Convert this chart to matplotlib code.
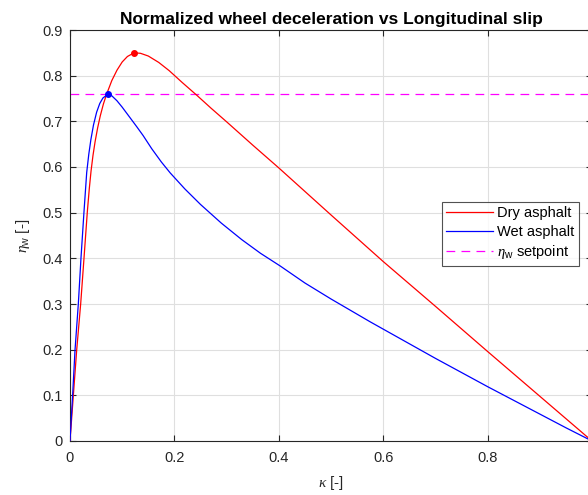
import matplotlib
matplotlib.use("Agg")
import matplotlib.pyplot as plt

plt.rcParams['font.family'] = ['Liberation Sans', 'DejaVu Sans']
plt.rcParams['mathtext.fontset'] = 'custom'
plt.rcParams['mathtext.it'] = 'Liberation Serif:italic'
plt.rcParams['mathtext.rm'] = 'Liberation Sans'

# Longitudinal slip and normalized wheel deceleration, dry asphalt
kappa_dry = [0.0, 0.005, 0.0128, 0.0205, 0.0268, 0.0332, 0.037, 0.0403, 0.044,
             0.048, 0.053, 0.058, 0.064, 0.070, 0.080, 0.090, 0.100, 0.110,
             0.1227, 0.135, 0.150, 0.170, 0.190, 0.215, 0.243, 0.270, 0.300,
             0.350, 0.400, 0.500, 0.600, 0.700, 0.800, 0.900, 1.0]
eta_dry = [0.0, 0.078, 0.199, 0.301, 0.400, 0.502, 0.553, 0.591, 0.625,
           0.655, 0.686, 0.712, 0.738, 0.759, 0.789, 0.812, 0.830, 0.842,
           0.850, 0.849, 0.843, 0.829, 0.811, 0.785, 0.757, 0.729, 0.699,
           0.648, 0.598, 0.495, 0.393, 0.295, 0.196, 0.098, 0.0]

# Wet asphalt
kappa_wet = [0.0, 0.005, 0.0096, 0.016, 0.021, 0.0268, 0.032, 0.036, 0.040,
             0.045, 0.051, 0.057, 0.063, 0.0722, 0.080, 0.090, 0.100, 0.115,
             0.128, 0.140, 0.1566, 0.175, 0.192, 0.220, 0.250, 0.290, 0.329,
             0.365, 0.403, 0.450, 0.500, 0.575, 0.600, 0.650, 0.700, 0.750,
             0.800, 0.850, 0.900, 0.950, 1.0]
eta_wet = [0.0, 0.100, 0.199, 0.301, 0.400, 0.502, 0.588, 0.628, 0.660,
           0.692, 0.720, 0.739, 0.751, 0.759, 0.756, 0.745, 0.731, 0.708,
           0.688, 0.669, 0.640, 0.611, 0.587, 0.552, 0.518, 0.477, 0.441,
           0.411, 0.383, 0.346, 0.311, 0.261, 0.245, 0.213, 0.181, 0.150,
           0.119, 0.089, 0.059, 0.029, 0.0]

# Peak points and setpoint
peak_dry = (0.1227, 0.850)
peak_wet = (0.0722, 0.759)
eta_setpoint = 0.759

xticks = [0, 0.2, 0.4, 0.6, 0.8]
xticklabels = ['0', '0.2', '0.4', '0.6', '0.8']
yticks = [0, 0.1, 0.2, 0.3, 0.4, 0.5, 0.6, 0.7, 0.8, 0.9]
yticklabels = ['0', '0.1', '0.2', '0.3', '0.4', '0.5', '0.6', '0.7', '0.8', '0.9']

W, H = 588, 495
fig = plt.figure(figsize=(W / 100, H / 100), dpi=100)
ax = fig.add_axes([70 / W, 54 / H, 522 / W, 411 / H])

spine_col = '#262626'
grid_col = '#dfdfdf'

ax.plot(kappa_dry, eta_dry, color='red', lw=0.9, label='Dry asphalt', zorder=3)
ax.plot(kappa_wet, eta_wet, color='blue', lw=0.9, label='Wet asphalt', zorder=3)
ax.axhline(eta_setpoint, color='magenta', ls=(0, (7, 5)), lw=0.9,
           label=r'$\eta_{\mathrm{w}}$ setpoint', zorder=2)
ax.plot(*peak_dry, 'o', color='red', ms=4, zorder=4)
ax.plot(*peak_wet, 'o', color='blue', ms=4, zorder=4)

ax.set_xlim(0, 1)
ax.set_ylim(0, 0.9)
ax.set_xticks(xticks)
ax.set_xticklabels(xticklabels)
ax.set_yticks(yticks)
ax.set_yticklabels(yticklabels)

ax.grid(True, color=grid_col, lw=0.8)
ax.set_axisbelow(True)
for s in ax.spines.values():
    s.set_color(spine_col)
    s.set_linewidth(0.8)
ax.tick_params(direction='in', length=4, width=0.8, color=spine_col,
               labelsize=10.5, labelcolor=spine_col, top=True, right=True)
ax.tick_params(axis='x', pad=7)
ax.tick_params(axis='y', pad=5)

ax.set_title('Normalized wheel deceleration vs Longitudinal slip',
             fontsize=12.5, fontweight='bold', pad=4)
ax.set_xlabel(r'$\kappa$ [-]', fontsize=11, color=spine_col, labelpad=7)
ax.set_ylabel(r'$\eta_{\mathrm{w}}$ [-]', fontsize=11, color=spine_col, labelpad=8)

leg = ax.legend(loc='upper left', fontsize=10.5, frameon=True, fancybox=False,
                borderpad=0.3, handlelength=3.2, handletextpad=0.3,
                labelspacing=0.3, borderaxespad=0,
                bbox_to_anchor=((442 - 70) / 522, (441 - 202) / 411))
leg.get_frame().set_edgecolor(spine_col)
leg.get_frame().set_linewidth(0.8)

fig.savefig('out.png', dpi=100)
